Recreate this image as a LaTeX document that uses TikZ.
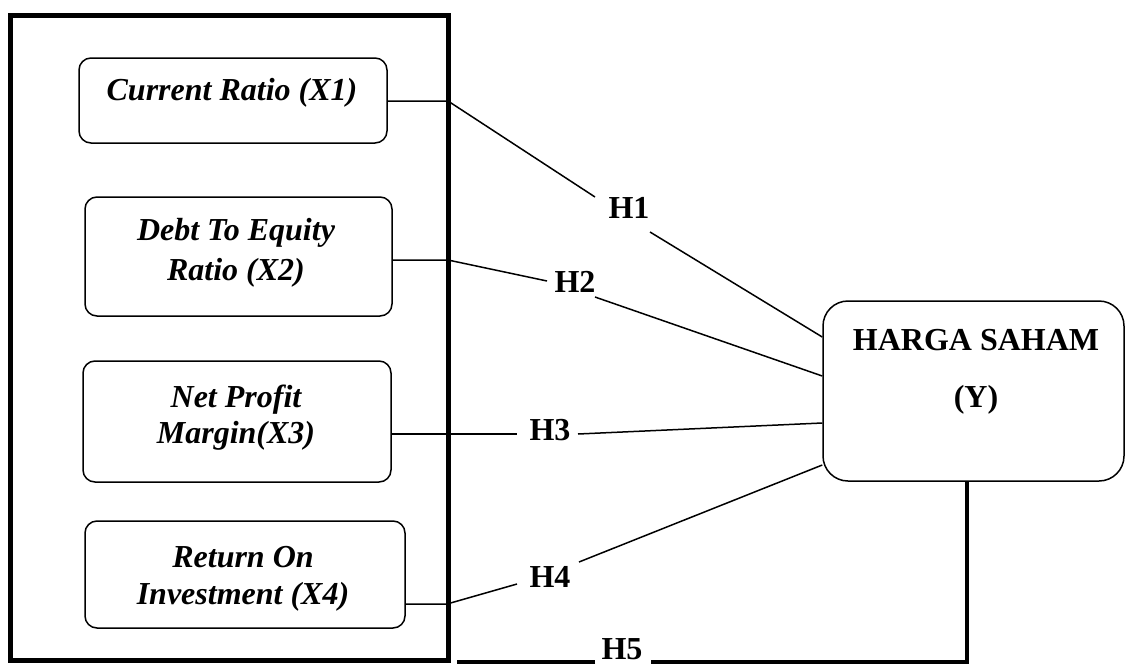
\documentclass[tikz,border=0pt]{standalone}
\usepackage{fontspec}
\setmainfont{Liberation Serif}
\begin{document}
\begin{tikzpicture}[x=1pt,y=-1pt,
  box/.style={draw, line width=1.5pt, rounded corners=12pt, inner sep=0pt},
  varlbl/.style={anchor=base, inner sep=0pt, font=\fontsize{32}{38}\selectfont\bfseries\itshape},
  hlbl/.style={anchor=base, inner sep=0pt, font=\fontsize{32}{38}\selectfont\bfseries},
  conn/.style={line width=1.5pt},
  grpframe/.style={draw, line width=5pt, inner sep=0pt},
  heavy/.style={line width=4pt}]
\useasboundingbox (0,0) rectangle (1126,664);

% outer group frame
\node[grpframe, minimum width=437.5pt, minimum height=645pt] (grp) at (229.25,337.5) {};

% variable boxes
\node[box, minimum width=308pt, minimum height=85pt] (b1) at (233,100.5) {};
\node[box, minimum width=307pt, minimum height=119pt] (b2) at (238.5,256.5) {};
\node[box, minimum width=308pt, minimum height=121pt] (b3) at (237,421.5) {};
\node[box, minimum width=320pt, minimum height=107pt] (b4) at (245,574.5) {};
\node[box, rounded corners=25pt, minimum width=301pt, minimum height=180pt] (Y) at (973.5,391) {};

% texts
\node[varlbl] (t1) at (232,100) {Current Ratio (X1)};
\node[varlbl] (t2a) at (236,240) {Debt To Equity};
\node[varlbl] (t2b) at (236,280) {Ratio (X2)};
\node[varlbl] (t3a) at (236,407) {Net Profit};
\node[varlbl] (t3b) at (236,443) {Margin(X3)};
\node[varlbl] (t4a) at (243,567) {Return On};
\node[varlbl] (t4b) at (243,604) {Investment (X4)};
\node[hlbl] (ty1) at (976,350) {HARGA SAHAM};
\node[hlbl] (ty2) at (976,407) {(Y)};

% hypothesis labels
\node[hlbl] (h1) at (629,218) {H1};
\node[hlbl] (h2) at (575,292) {H2};
\node[hlbl] (h3) at (550,440) {H3};
\node[hlbl] (h4) at (550,587) {H4};
\node[hlbl, text depth=0pt] (h5) at (622,659) {H5};

% bend / gap coordinates
\coordinate (k1) at (448,101);
\coordinate (g1a) at (595,197);
\coordinate (g1b) at (650,232);
\coordinate (k2) at (448,260);
\coordinate (g2a) at (547,281);
\coordinate (g2b) at (595,297);
\coordinate (g3a) at (517,434);
\coordinate (g3b) at (578,434);
\coordinate (k4) at (447,604);
\coordinate (g4a) at (517,584);
\coordinate (g4b) at (579,562);
\coordinate (g5a) at (595,662);
\coordinate (g5b) at (651,662);
\coordinate (e5) at (457,662);

% connectors
\draw[conn] (k1 -| b1.east) -- (k1) -- (g1a);
\draw[conn] (g1b) -- ([yshift=54pt]Y.west);
\draw[conn] (k2 -| b2.east) -- (k2) -- (g2a);
\draw[conn] (g2b) -- ([yshift=15pt]Y.west);
\draw[conn] (g3a -| b3.east) -- (g3a);
\draw[conn] (g3b) -- ([yshift=-32pt]Y.west);
\draw[conn] (k4 -| b4.east) -- (k4) -- (g4a);
\draw[conn] (g4b) -- ([yshift=-74pt]Y.west);
\draw[heavy] ([xshift=-6.5pt]Y.south) |- (g5b);
\draw[heavy] (g5a) -- (e5);
\end{tikzpicture}
\end{document}
